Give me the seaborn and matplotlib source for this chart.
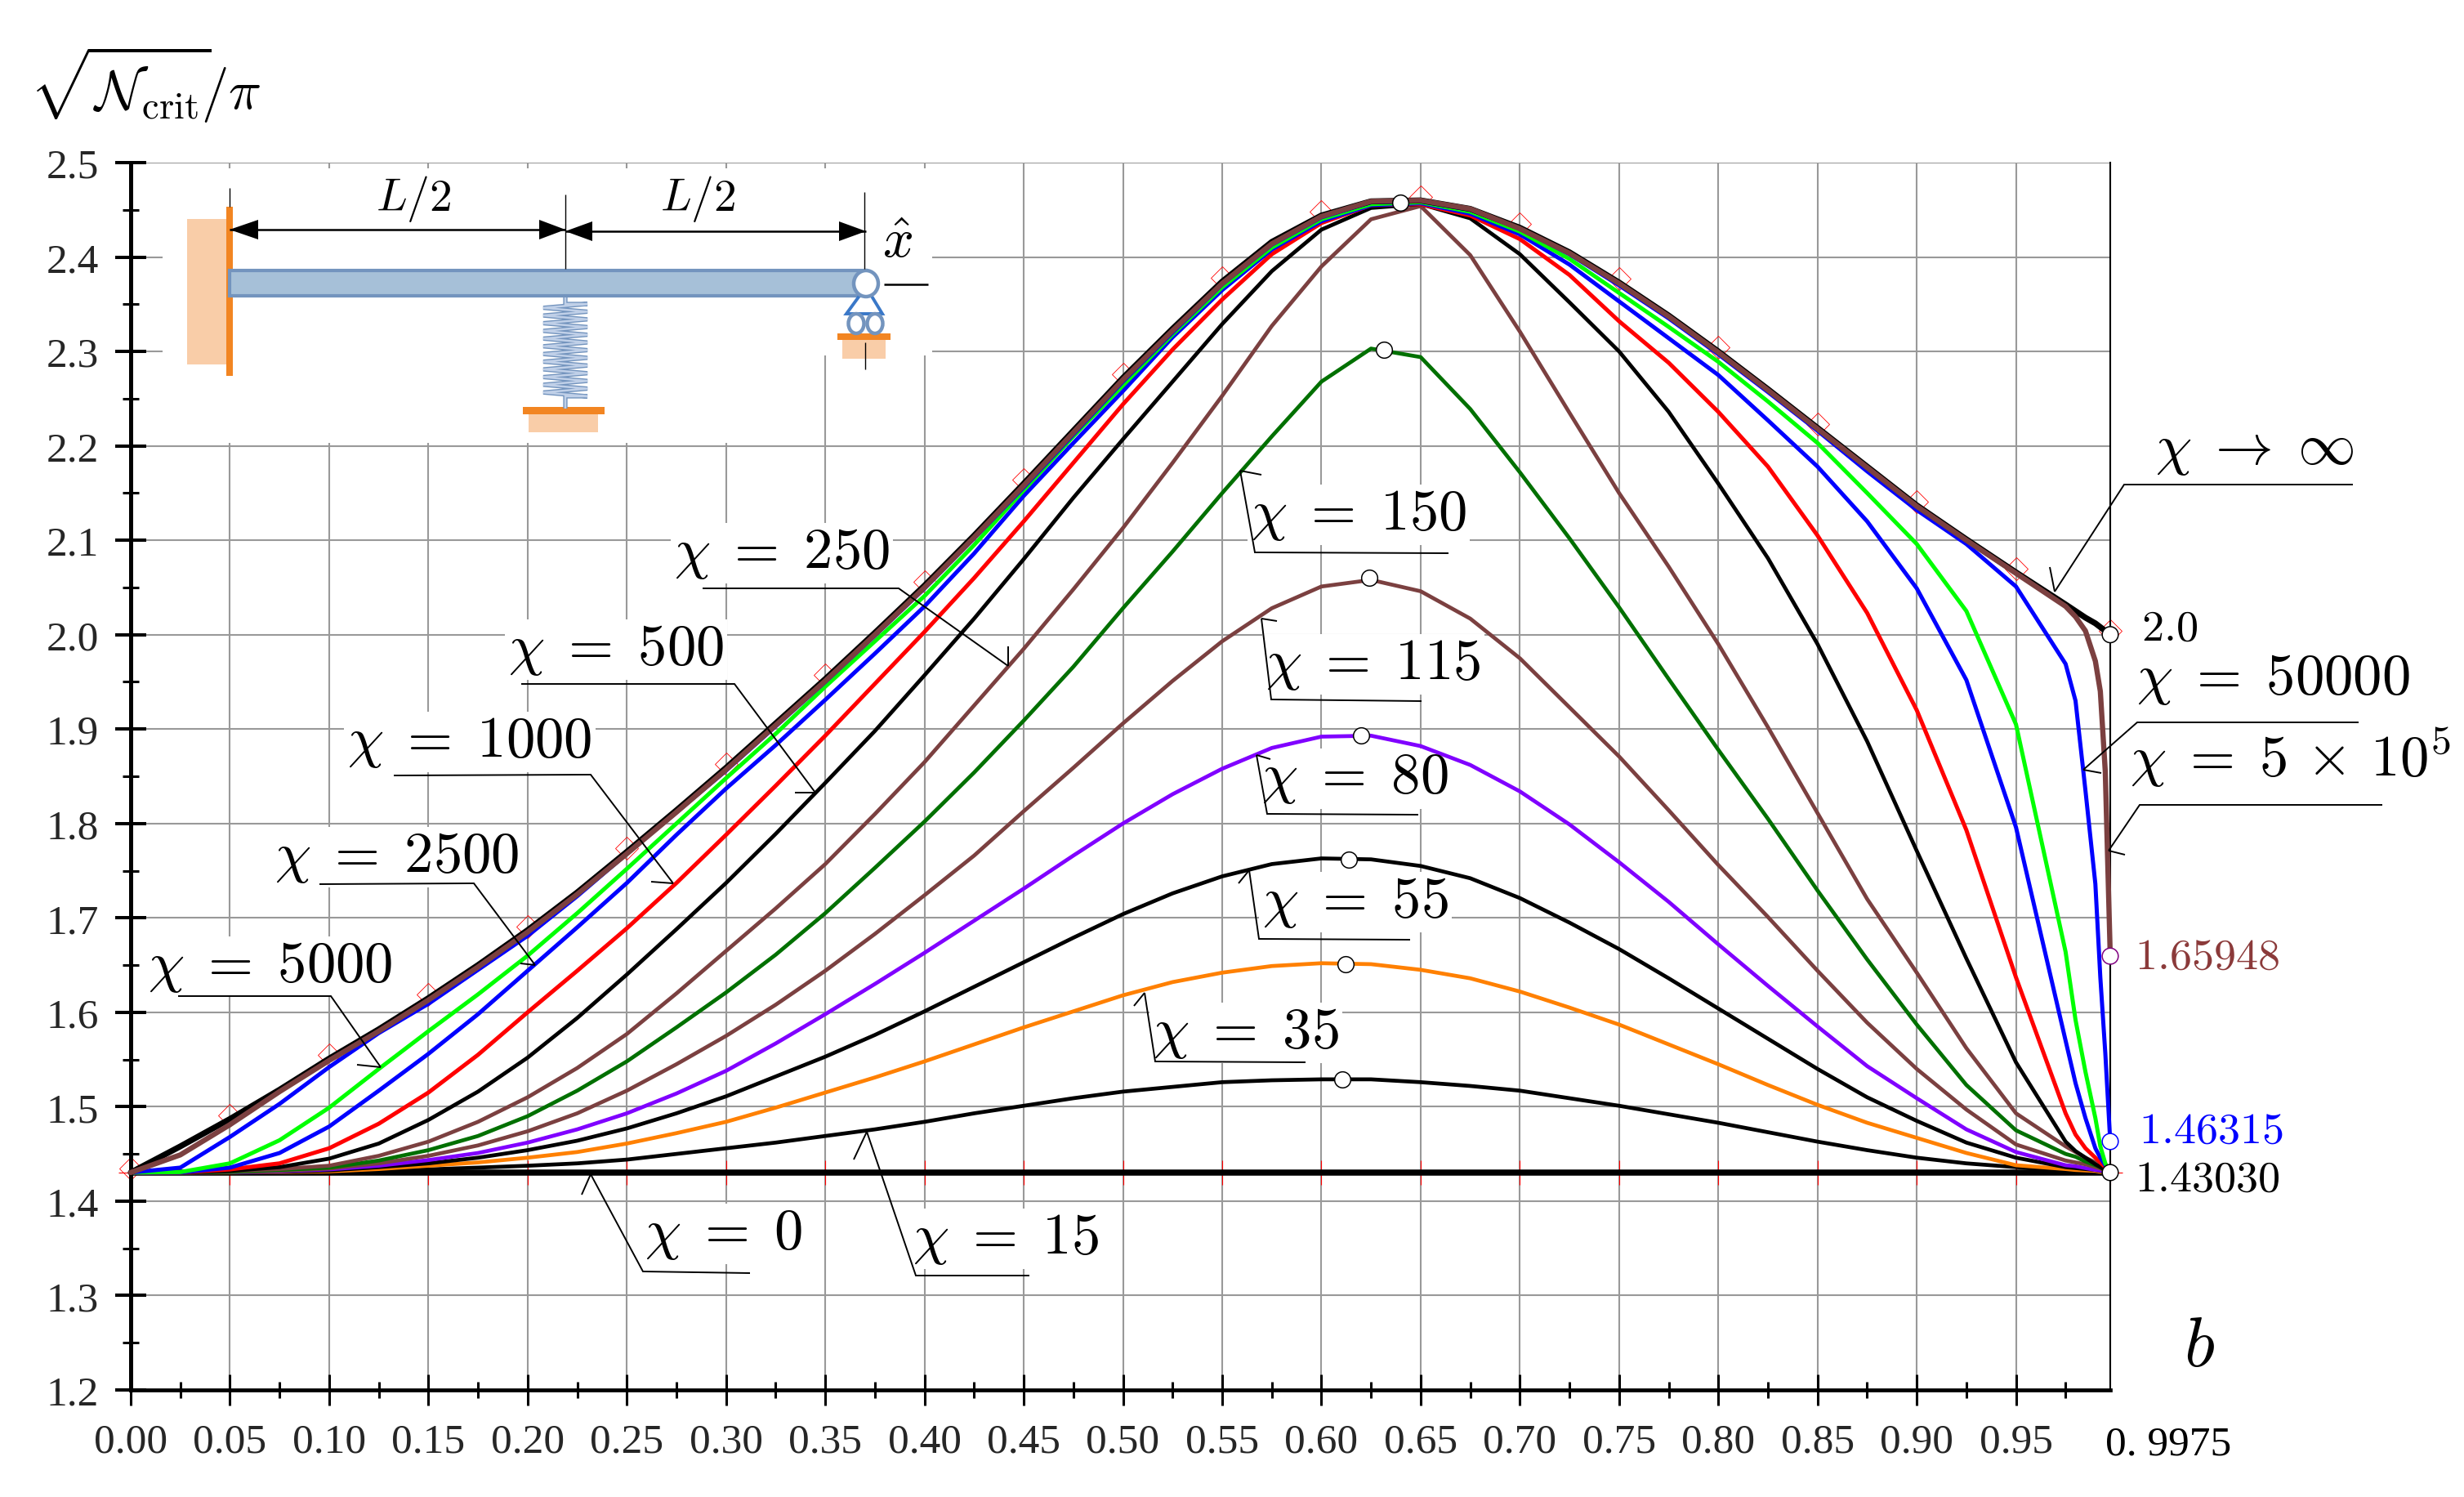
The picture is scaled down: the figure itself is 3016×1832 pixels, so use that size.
#!/usr/bin/env python
"""Critical load curves against spring position b, for a range of spring stiffness chi."""
import numpy as np
import pandas as pd
import matplotlib
matplotlib.use("Agg")
import matplotlib.pyplot as plt
from matplotlib.patches import Rectangle, Ellipse, Polygon
import seaborn as sns

# ---------- Data ----------
b_grid = [0.000, 0.025, 0.050, 0.075, 0.100, 0.125, 0.150, 0.175, 0.200, 0.225,
          0.250, 0.275, 0.300, 0.325, 0.350, 0.375, 0.400, 0.425, 0.450, 0.475,
          0.500, 0.525, 0.550, 0.575, 0.600, 0.625, 0.650, 0.675, 0.700, 0.725,
          0.750, 0.775, 0.800, 0.825, 0.850, 0.875, 0.900, 0.925, 0.950, 0.975,
          0.980, 0.985, 0.990, 0.9925, 0.995, 0.9975]

chi_inf = [1.4303, 1.458, 1.487, 1.518, 1.551, 1.582, 1.615, 1.650, 1.687, 1.727,
           1.770, 1.814, 1.859, 1.906, 1.953, 2.002, 2.052, 2.105, 2.160, 2.216,
           2.272, 2.324, 2.374, 2.416, 2.444, 2.459, 2.460, 2.451, 2.431, 2.405,
           2.373, 2.338, 2.300, 2.260, 2.219, 2.178, 2.137, 2.101, 2.066, 2.032,
           2.025, 2.018, 2.012, 2.008, 2.004, 2.000]
chi_5e5 = [1.4303, 1.449, 1.481, 1.516, 1.549, 1.580, 1.613, 1.648, 1.685, 1.725,
           1.768, 1.812, 1.857, 1.904, 1.951, 2.000, 2.050, 2.103, 2.158, 2.214,
           2.270, 2.322, 2.372, 2.414, 2.443, 2.459, 2.460, 2.451, 2.430, 2.404,
           2.372, 2.337, 2.299, 2.259, 2.218, 2.177, 2.136, 2.100, 2.065, 2.030,
           2.019, 2.004, 1.972, 1.940, 1.855, 1.65948]
chi_5e4 = [1.4303, 1.4355, 1.468, 1.503, 1.542, 1.578, 1.609, 1.645, 1.681, 1.723,
           1.768, 1.812, 1.856, 1.903, 1.950, 1.999, 2.049, 2.102, 2.156, 2.212,
           2.268, 2.320, 2.371, 2.413, 2.442, 2.458, 2.459, 2.450, 2.430, 2.403,
           2.370, 2.335, 2.297, 2.257, 2.216, 2.173, 2.132, 2.096, 2.051, 1.969,
           1.930, 1.835, 1.736, 1.637, 1.557, 1.46315]
chi_5000 = [1.4303, 1.4308, 1.440, 1.4645, 1.499, 1.540, 1.580, 1.619, 1.660, 1.705,
            1.752, 1.800, 1.848, 1.895, 1.945, 1.993, 2.041, 2.095, 2.153, 2.210,
            2.264, 2.318, 2.368, 2.410, 2.440, 2.456, 2.458, 2.448, 2.427, 2.398,
            2.362, 2.326, 2.289, 2.247, 2.203, 2.150, 2.096, 2.025, 1.905, 1.664,
            1.592, 1.537, 1.488, 1.458, 1.440, 1.4303]
chi_2500 = [1.4303, 1.4304, 1.4355, 1.451, 1.479, 1.517, 1.556, 1.598, 1.644, 1.690,
            1.737, 1.788, 1.837, 1.883, 1.931, 1.980, 2.030, 2.086, 2.147, 2.203,
            2.258, 2.315, 2.365, 2.408, 2.438, 2.455, 2.457, 2.446, 2.424, 2.392,
            2.353, 2.314, 2.275, 2.227, 2.178, 2.120, 2.049, 1.952, 1.796, 1.570,
            1.525, 1.488, 1.456, 1.446, 1.438, 1.4303]
chi_1000 = [1.4303, 1.4304, 1.4336, 1.440, 1.456, 1.482, 1.515, 1.555, 1.600, 1.644,
            1.689, 1.737, 1.788, 1.840, 1.893, 1.948, 2.003, 2.060, 2.120, 2.182,
            2.244, 2.302, 2.355, 2.403, 2.436, 2.455, 2.456, 2.444, 2.419, 2.381,
            2.332, 2.288, 2.236, 2.178, 2.105, 2.023, 1.920, 1.793, 1.637, 1.493,
            1.4705, 1.456, 1.446, 1.441, 1.436, 1.4303]
chi_500 = [1.4303, 1.4303, 1.432, 1.436, 1.445, 1.461, 1.486, 1.516, 1.552, 1.594,
           1.640, 1.688, 1.737, 1.789, 1.843, 1.898, 1.957, 2.017, 2.080, 2.145,
           2.207, 2.268, 2.329, 2.385, 2.429, 2.452, 2.456, 2.441, 2.403, 2.352,
           2.300, 2.236, 2.160, 2.081, 1.990, 1.887, 1.771, 1.657, 1.547, 1.463,
           1.453, 1.446, 1.439, 1.436, 1.433, 1.4303]
chi_250 = [1.4303, 1.4303, 1.432, 1.434, 1.4375, 1.448, 1.463, 1.484, 1.510, 1.541,
           1.577, 1.620, 1.665, 1.710, 1.757, 1.810, 1.865, 1.925, 1.985, 2.048,
           2.113, 2.182, 2.253, 2.327, 2.390, 2.440, 2.454, 2.402, 2.321, 2.235,
           2.150, 2.072, 1.990, 1.902, 1.811, 1.720, 1.642, 1.562, 1.493, 1.458,
           1.452, 1.446, 1.441, 1.438, 1.434, 1.4303]
chi_150 = [1.4303, 1.4303, 1.431, 1.433, 1.4355, 1.443, 1.454, 1.469, 1.490, 1.517,
           1.548, 1.584, 1.621, 1.661, 1.705, 1.753, 1.802, 1.854, 1.909, 1.966,
           2.028, 2.088, 2.150, 2.210, 2.268, 2.303, 2.294, 2.239, 2.172, 2.102,
           2.029, 1.953, 1.878, 1.805, 1.729, 1.656, 1.587, 1.523, 1.475, 1.450,
           1.447, 1.442, 1.438, 1.436, 1.433, 1.4303]
chi_115 = [1.4303, 1.4303, 1.4308, 1.432, 1.4345, 1.440, 1.448, 1.459, 1.474, 1.493,
           1.517, 1.545, 1.575, 1.608, 1.644, 1.683, 1.724, 1.766, 1.813, 1.859,
           1.906, 1.951, 1.993, 2.028, 2.051, 2.058, 2.046, 2.017, 1.975, 1.923,
           1.871, 1.814, 1.756, 1.701, 1.644, 1.589, 1.540, 1.497, 1.460, 1.443,
           1.441, 1.439, 1.436, 1.4345, 1.432, 1.4303]
chi_80 = [1.4303, 1.4303, 1.4306, 1.4315, 1.4336, 1.4375, 1.4435, 1.451, 1.462, 1.476,
          1.493, 1.514, 1.538, 1.567, 1.598, 1.630, 1.663, 1.697, 1.731, 1.766,
          1.800, 1.831, 1.858, 1.880, 1.892, 1.893, 1.882, 1.862, 1.834, 1.799,
          1.759, 1.717, 1.672, 1.628, 1.585, 1.543, 1.509, 1.476, 1.452, 1.438,
          1.437, 1.435, 1.433, 1.4325, 1.431, 1.4303]
chi_55 = [1.4303, 1.4303, 1.4305, 1.431, 1.4325, 1.436, 1.440, 1.446, 1.454, 1.464,
          1.477, 1.493, 1.511, 1.532, 1.553, 1.576, 1.601, 1.627, 1.653, 1.679,
          1.704, 1.726, 1.744, 1.757, 1.763, 1.762, 1.755, 1.742, 1.721, 1.695,
          1.667, 1.636, 1.604, 1.572, 1.540, 1.510, 1.485, 1.462, 1.446, 1.436,
          1.435, 1.434, 1.433, 1.432, 1.431, 1.4303]
chi_35 = [1.4303, 1.4303, 1.4304, 1.4307, 1.4315, 1.434, 1.4375, 1.441, 1.446, 1.452,
          1.461, 1.472, 1.484, 1.499, 1.515, 1.531, 1.548, 1.566, 1.584, 1.601,
          1.618, 1.632, 1.642, 1.649, 1.652, 1.651, 1.645, 1.636, 1.622, 1.605,
          1.587, 1.566, 1.545, 1.523, 1.502, 1.483, 1.467, 1.451, 1.438, 1.434,
          1.433, 1.4325, 1.432, 1.431, 1.4305, 1.4303]
chi_15 = [1.4303, 1.4303, 1.4303, 1.4305, 1.431, 1.432, 1.4336, 1.4355, 1.4375, 1.440,
          1.444, 1.450, 1.456, 1.462, 1.469, 1.476, 1.484, 1.493, 1.501, 1.509,
          1.516, 1.521, 1.526, 1.528, 1.529, 1.529, 1.526, 1.522, 1.517, 1.509,
          1.501, 1.492, 1.483, 1.473, 1.463, 1.454, 1.446, 1.440, 1.436, 1.432,
          1.4315, 1.431, 1.4305, 1.4305, 1.4303, 1.4303]
chi_0_b = [0.0, 0.9975]
chi_0 = [1.4303, 1.4303]

# peak / end points, white circles
peak_b = [0.6107, 0.6122, 0.6139, 0.620, 0.6242, 0.6316, 0.6398]
peak_v = [1.529, 1.651, 1.7615, 1.893, 2.060, 2.302, 2.4575]
end_b = [0.9975, 0.9975, 0.9975, 0.9975]
end_v = [2.0, 1.65948, 1.46315, 1.4303]
end_edges = ["black", "#800080", "#0000FF", "black"]

y_ticks = [1.2, 1.3, 1.4, 1.5, 1.6, 1.7, 1.8, 1.9, 2.0, 2.1, 2.2, 2.3, 2.4, 2.5]
x_ticks = [0.00, 0.05, 0.10, 0.15, 0.20, 0.25, 0.30, 0.35, 0.40, 0.45,
           0.50, 0.55, 0.60, 0.65, 0.70, 0.75, 0.80, 0.85, 0.90, 0.95]
x_minor = [0.025, 0.075, 0.125, 0.175, 0.225, 0.275, 0.325, 0.375, 0.425, 0.475,
           0.525, 0.575, 0.625, 0.675, 0.725, 0.775, 0.825, 0.875, 0.925, 0.975]
y_minor = [1.25, 1.35, 1.45, 1.55, 1.65, 1.75, 1.85, 1.95, 2.05, 2.15, 2.25, 2.35, 2.45]

BROWN = "#7B4040"
# drawing order, back to front: values, colour, width in points
series = [
    (chi_15, "black", 1.7), (chi_35, "#FF8000", 1.7), (chi_55, "black", 1.7),
    (chi_80, "#8000FF", 1.7), (chi_115, BROWN, 1.7), (chi_150, "#007000", 1.7),
    (chi_250, BROWN, 1.7), (chi_500, "black", 1.7), (chi_1000, "#FF0000", 1.8),
    (chi_2500, "#0000FF", 1.8), (chi_5000, "#00FF00", 1.8), (chi_5e4, "#0000FF", 1.8),
    (chi_inf, "black", 2.6), (chi_5e5, BROWN, 2.3),
]

# ---------- Figure ----------
W, H = 3016, 1833
sns.set_theme(style="white")
plt.rcParams["font.family"] = ["Liberation Serif", "DejaVu Serif"]
plt.rcParams["mathtext.fontset"] = "cm"

fig = plt.figure(figsize=(W / 200, H / 200), dpi=200, facecolor="white")
ax = fig.add_axes([160 / W, 1 - 1702 / H, (2583 - 160) / W, (1702 - 200) / H])
ax.set_xlim(0, 0.9975)
ax.set_ylim(1.2, 2.5)
ax.set_axisbelow(True)


def fx(x):
    return x / W


def fy(y):
    return 1 - y / H


def seg(points, color="black", lw=0.7, z=3.5):
    xs = [fx(p[0]) for p in points]
    ys = [fy(p[1]) for p in points]
    ax.plot(xs, ys, color=color, lw=lw, transform=fig.transFigure, clip_on=False,
            zorder=z, solid_capstyle="butt", solid_joinstyle="miter")


def box(x0, y0, x1, y1, color, z=1.0, edge="none", lw=0):
    ax.add_patch(Rectangle((fx(x0), fy(y1)), fx(x1) - fx(x0), fy(y0) - fy(y1),
                           facecolor=color, edgecolor=edge, lw=lw,
                           transform=fig.transFigure, clip_on=False, zorder=z))


def say(x, y, s, size, color="black", mask=False):
    if mask:
        ax.text(fx(x), fy(y), s, fontsize=size, color="white", ha="center", va="center",
                transform=fig.transFigure, zorder=1.2,
                bbox=dict(facecolor="white", edgecolor="none", pad=1.5))
    ax.text(fx(x), fy(y), s, fontsize=size, color=color, ha="center", va="center",
            transform=fig.transFigure, zorder=6)


# ---------- Axes and grid ----------
ax.set_xticks(x_ticks)
ax.set_xticklabels([f"{v:.2f}" for v in x_ticks])
ax.set_yticks(y_ticks)
ax.set_yticklabels([f"{v:.1f}" for v in y_ticks])
ax.set_xticks(x_minor, minor=True)
ax.set_yticks(y_minor, minor=True)
ax.tick_params(axis="x", which="major", direction="inout", length=13.7, width=1.1,
               color="black", pad=7.5, labelsize=18.5, bottom=True)
ax.tick_params(axis="x", which="minor", direction="inout", length=7.2, width=1.1,
               color="black", bottom=True)
ax.tick_params(axis="y", which="major", direction="inout", length=14, width=1.45,
               color="black", pad=7, labelsize=18.5, left=True)
ax.tick_params(axis="y", which="minor", direction="inout", length=7.2, width=1.1,
               color="black", left=True)
ax.grid(True, which="major", color="#999999", lw=0.75)
for side, lw in (("left", 1.8), ("bottom", 1.7), ("right", 0.75)):
    ax.spines[side].set_visible(True)
    ax.spines[side].set_linewidth(lw)
    ax.spines[side].set_color("black")
ax.spines["top"].set_visible(False)

# inset background hides the grid
box(199, 207, 1141, 436, "white", z=1.0)
box(199, 436, 1005, 543, "white", z=1.0)

# ---------- Curves ----------
# thin red markers sit under the curves
env = pd.DataFrame({"b": b_grid, "v": chi_inf})
env = env[(env.index % 2 == 0) & (env.index <= 38) | (env.index == 45)]
ax.plot(env["b"], env["v"] + 0.004, ls="none", marker="D", ms=7.2, mfc="none", mec="#FF0000",
        mew=0.3, zorder=1.5, clip_on=False)
plus_b = list(env["b"])
ax.plot(plus_b, [chi_0[0]] * len(plus_b), ls="none", marker="+", ms=10.5, mec="#FF0000",
        mew=0.4, zorder=1.5, clip_on=False)

for i, (vals, col, lw) in enumerate(series):
    sns.lineplot(x=b_grid, y=vals, color=col, lw=lw, ax=ax, estimator=None, sort=False,
                 legend=False, zorder=2 + i * 0.05, clip_on=False)
sns.lineplot(x=chi_0_b, y=chi_0, color="black", lw=2.7, ax=ax, estimator=None, sort=False,
             legend=False, zorder=2.02)
ax.set_xlabel("")
ax.set_ylabel("")

sns.scatterplot(x=peak_b, y=peak_v, s=50, facecolor="white", edgecolor="black", linewidth=0.55,
                ax=ax, legend=False, zorder=4, clip_on=False)
sns.scatterplot(x=end_b, y=end_v, s=50, facecolor="white", edgecolor=end_edges, linewidth=0.55,
                ax=ax, legend=False, zorder=4, clip_on=False)

# ---------- Curve labels with leaders: text, underline/elbow/tip path, barb ----------
LABEL = 25.5
labels = [
    (r"$\chi\;=\;5000$", 331, 1184, [(218, 1220), (405, 1220), (466, 1307)], (437, 1304)),
    (r"$\chi\;=\;2500$", 486, 1050, [(391, 1083), (580, 1082), (655, 1182)], (637, 1180)),
    (r"$\chi\;=\;1000$", 575, 909, [(482, 950), (723, 949), (824, 1082)], (797, 1080)),
    (r"$\chi\;=\;500$", 754, 796, [(638, 838), (899, 838), (998, 971)], (973, 971)),
    (r"$\chi\;=\;250$", 957, 678, [(860, 721), (1100, 721), (1234, 816)], (1234, 792)),
    (r"$\chi\;=\;150$", 1663, 631, [(1773, 678), (1536, 677), (1518, 577)], (1544, 582)),
    (r"$\chi\;=\;115$", 1681, 814, [(1740, 859), (1556, 857), (1544, 758)], (1563, 761)),
    (r"$\chi\;=\;80$", 1658, 954, [(1736, 998), (1551, 997), (1538, 925)], (1555, 930)),
    (r"$\chi\;=\;55$", 1659, 1105, [(1726, 1151), (1541, 1150), (1529, 1066)], (1516, 1082)),
    (r"$\chi\;=\;35$", 1525, 1265, [(1598, 1301), (1414, 1300), (1401, 1216)], (1388, 1232)),
    (r"$\chi\;=\;15$", 1231, 1517, [(1260, 1562), (1121, 1562), (1061, 1386)], (1045, 1420)),
    (r"$\chi\;=\;0$", 886, 1511, [(918, 1559), (787, 1557), (723, 1438)], (712, 1463)),
    (r"$\chi\;\rightarrow\;\infty$", 2760, 551, [(2880, 594), (2600, 594), (2515, 725)], (2509, 695)),
    (r"$\chi\;=\;50000$", 2782, 832, [(2887, 885), (2616, 885), (2550, 943)], (2572, 947)),
    (r"$\chi\;=\;5\,\times\,10^5$", 2804, 927, [(2916, 986), (2619, 986), (2581, 1042)], (2601, 1047)),
]
for text, tx, ty, path, barb in labels:
    say(tx, ty, text, LABEL, mask=True)
    seg(path)
    seg([path[-1], barb])

# end values and last x label
say(2656, 770, r"$\mathrm{2.0}$", 19.5)
say(2702, 1172, r"$\mathrm{1.65948}$", 19.5, color="#8B3A3A")
say(2706, 1385, r"$\mathrm{1.46315}$", 19.5, color="#0000FF")
say(2702, 1444, r"$\mathrm{1.43030}$", 19.5)
say(2654, 1768, "0. 9975", 18.5)
say(2692, 1651, r"$b$", 31)
say(178, 104, r"$\sqrt{\mathcal{N}_{\mathrm{crit}}}\!/\pi$", 24)

# ---------- Beam sketch ----------
PEACH, ORANGE = "#F9CDA8", "#F28522"
STEEL = "#7394BE"
box(229, 269, 281, 447, PEACH, z=2.8)
box(277, 254, 285, 461, ORANGE, z=2.85)
box(281, 332, 1060, 363, "#A6C0D8", z=2.9, edge=STEEL, lw=1.5)
box(647, 508, 732, 530, PEACH, z=2.8)
box(640, 499, 740, 508, ORANGE, z=2.85)
box(1031, 417, 1084, 440, PEACH, z=2.8)
box(1025, 409, 1090, 417, ORANGE, z=2.85)

# spring
coil_y = np.linspace(373, 486, 25)
coil_x = 692 + 27 * (-1.0) ** np.arange(25)
spring = [(692, 365), (692, 373)] + list(zip(coil_x, coil_y)) + [(692, 486), (692, 501)]
seg(spring, color=STEEL, lw=1.9, z=2.9)
seg(spring, color="#C0D0E8", lw=0.9, z=2.91)

# roller support
ax.add_patch(Polygon([(fx(1060), fy(352)), (fx(1036), fy(385)), (fx(1080), fy(385))],
                     closed=True, facecolor="none", edgecolor="#3A78C8", lw=1.4,
                     transform=fig.transFigure, clip_on=False, zorder=2.9))
for cx, cy, w, h in [(1060, 348, 30, 32), (1048, 397, 19, 24), (1071, 397, 19, 24)]:
    ax.add_patch(Ellipse((fx(cx), fy(cy)), w / W, h / H, facecolor="white", edgecolor=STEEL,
                         lw=1.6, transform=fig.transFigure, clip_on=False, zorder=2.95))

# dimension lines
seg([(281, 231), (281, 254)], lw=0.5)
seg([(692, 239), (692, 330)], lw=0.5)
seg([(1058, 236), (1058, 330)], lw=0.5)
seg([(1059, 420), (1059, 453)], lw=0.5)
seg([(281, 282), (692, 282)], lw=0.9)
seg([(692, 284), (1060, 284)], lw=0.9)
seg([(1082, 349), (1136, 349)], lw=0.9)
for tip, base, yc in [(281, 316, 282), (692, 660, 282), (692, 725, 284), (1060, 1027, 284)]:
    ax.add_patch(Polygon([(fx(tip), fy(yc)), (fx(base), fy(yc - 12)), (fx(base), fy(yc + 12))],
                         closed=True, facecolor="black", edgecolor="none",
                         transform=fig.transFigure, clip_on=False, zorder=3.6))
say(506, 243, r"$L/2$", 20)
say(854, 243, r"$L/2$", 20)
say(1099, 298, r"$\hat{x}$", 24)

fig.savefig("out.png", dpi=200, facecolor="white")
